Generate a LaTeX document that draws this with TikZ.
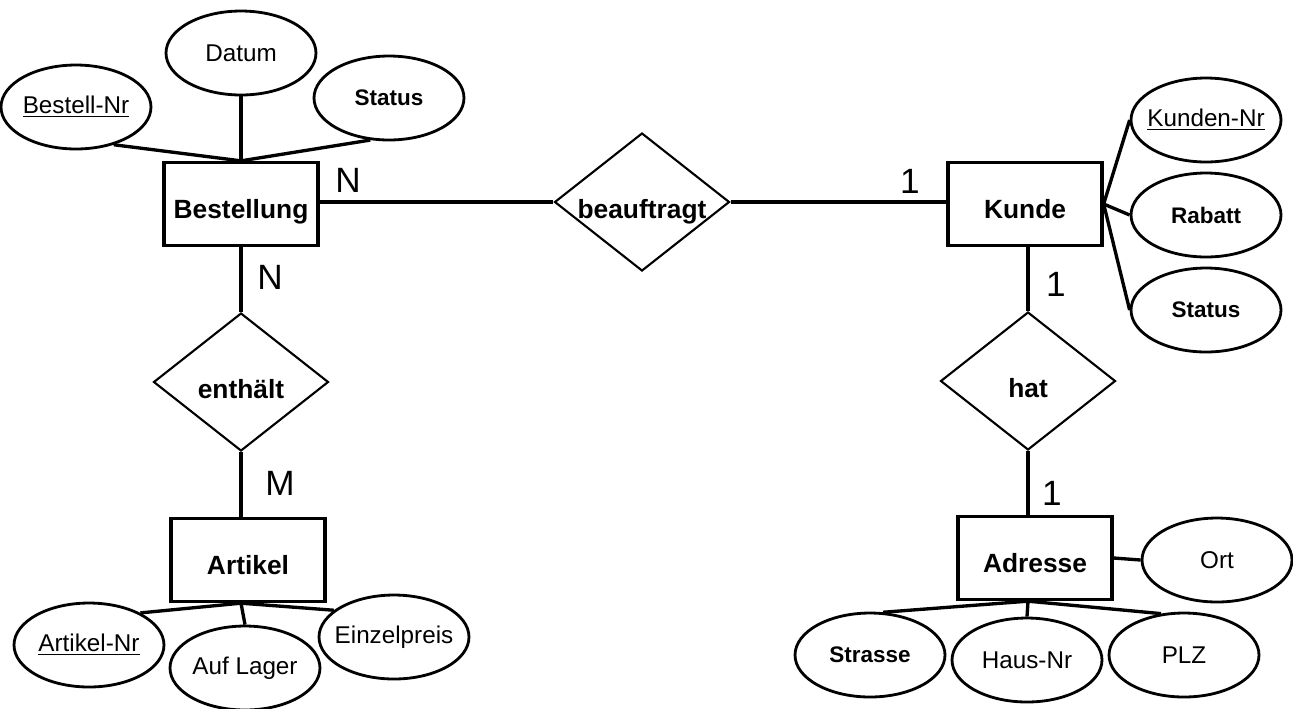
\documentclass[tikz,border=0pt]{standalone}
\usepackage{fontspec}
\setsansfont{Liberation Sans}
\usetikzlibrary{positioning,shapes.geometric}

\begin{document}
\begin{tikzpicture}[
  x=0.02cm, y=-0.02cm,
  font=\sffamily,
  entity/.style={rectangle,draw=black,line width=1.9pt,minimum width=3.08cm,
                 minimum height=1.66cm,inner sep=0pt,text height=16pt,text depth=0pt,
                 font=\sffamily\fontsize{15}{18}\selectfont\bfseries},
  rel/.style={diamond,draw=black,line width=1.2pt,minimum width=3.5cm,minimum height=2.76cm,
              inner xsep=-12mm,inner ysep=0pt,text height=19pt,text depth=0pt,
              font=\sffamily\fontsize{15}{18}\selectfont\bfseries},
  attr/.style={ellipse,draw=black,line width=1.6pt,minimum width=3cm,minimum height=1.68cm,
               inner xsep=-8mm,inner ysep=0pt,font=\sffamily\fontsize{13.8}{16}\selectfont},
  attrb/.style={attr,font=\sffamily\fontsize{12.8}{15}\selectfont\bfseries},
  card/.style={inner sep=0pt,font=\sffamily\fontsize{20}{24}\selectfont},
  conn/.style={line width=1.9pt},
]
\useasboundingbox (0,0) rectangle (1293,708);

% ===== Bestellung =====
\node[entity] (best) at (241,204) {Bestellung};
\node[attr]  (bnr) at (76,107) {\underline{Bestell-Nr}};
\node[attr]  (dat) at (241,53) {Datum};
\node[attrb] (st1) at (389,98) {Status};
\draw[conn] (bnr.-45) -- (best.north);
\draw[conn] (dat.south) -- (best.north);
\draw[conn] (st1.246) -- (best.north);

% ===== beauftragt =====
\node[rel] (bea) at (642,202) {beauftragt};
\node[entity] (kun) at (1025,204) {Kunde};
\draw[conn] (best.east |- bea.west) -- (bea.west);
\draw[conn] (bea.east) -- (kun.west |- bea.east);
\node[card] (cN1) at (348,180) {N};
\node[card] (c11) at (910,181) {1};

% ===== Kunde attributes =====
\node[attr]  (knr) at (1206,120) {\underline{Kunden-Nr}};
\node[attrb] (rab) at (1206,215) {Rabatt};
\node[attrb] (st2) at (1206,310) {Status};
\draw[conn] (kun.east) -- (knr.west);
\draw[conn] (kun.east) -- (rab.west);
\draw[conn] (kun.east) -- (st2.west);

% ===== enthaelt / Artikel =====
\node[rel] (ent) at (241,382) {enthält};
\node[entity] (art) at (248,560) {Artikel};
\draw[conn] (best.south) -- (ent.north);
\draw[conn] (ent.south) -- (ent.south |- art.north);
\node[card] (cN2) at (270,277) {N};
\node[card] (cM) at (280,483) {M};
\node[attr] (anr) at (89,645) {\underline{Artikel-Nr}};
\node[attr] (alg) at (245,668) {Auf Lager};
\node[attr] (ezp) at (394,637) {Einzelpreis};
\draw[conn] (art.south -| ent.south) -- (anr.32);
\draw[conn] (art.south -| ent.south) -- (alg.north);
\draw[conn] (art.south -| ent.south) -- (ezp.156);

% ===== hat / Adresse =====
\node[rel] (hat) at (1028,381) {hat};
\node[entity] (adr) at (1035,558) {Adresse};
\draw[conn] (kun.south -| hat.north) -- (hat.north);
\draw[conn] (hat.south) -- (hat.south |- adr.north);
\node[card] (c12) at (1056,284) {1};
\node[card] (c13) at (1052,493) {1};
\node[attr]  (ort) at (1217,560) {Ort};
\node[attrb] (str) at (870,655) {Strasse};
\node[attr]  (hnr) at (1027,660) {Haus-Nr};
\node[attr]  (plz) at (1184,655) {PLZ};
\draw[conn] (adr.east) -- (ort.west);
\draw[conn] (adr.south -| hat.south) -- (str.73);
\draw[conn] (adr.south -| hat.south) -- (hnr.north);
\draw[conn] (adr.south -| hat.south) -- (plz.119);
\end{tikzpicture}
\end{document}
